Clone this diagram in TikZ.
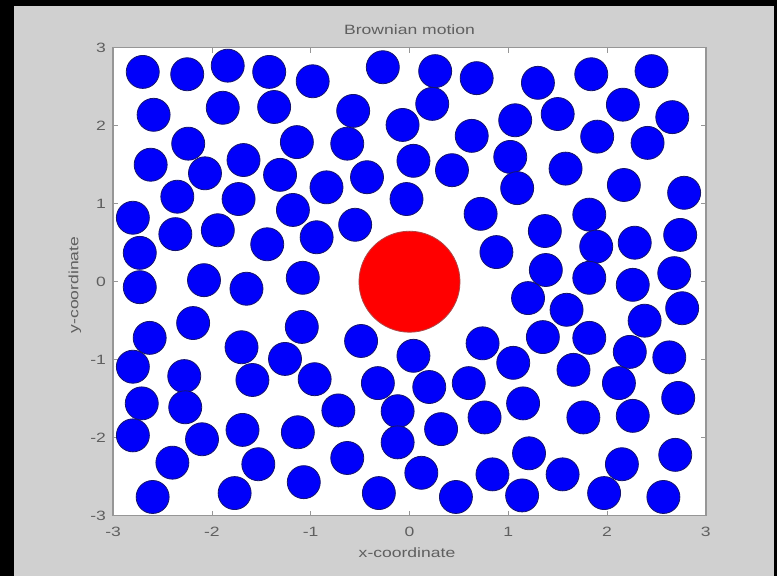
\documentclass[tikz,border=0pt]{standalone}
\usepackage{fontspec}
\setmainfont{Liberation Sans}
\usepackage{graphicx}
\usetikzlibrary{positioning}
\definecolor{figgray}{RGB}{208,208,208}
\definecolor{axgray}{RGB}{150,150,150}
\definecolor{labgray}{RGB}{95,95,95}
\definecolor{ballblue}{RGB}{0,0,250}
\definecolor{balledge}{RGB}{20,20,110}
\definecolor{bigred}{RGB}{255,0,0}
\definecolor{bigedge}{RGB}{175,70,70}
\newcommand{\widetext}[1]{\scalebox{1.3}[1]{#1}}

\begin{document}
\begin{tikzpicture}[x=98.8pt, y=78pt,
  lbl/.style={font=\fontsize{13.5}{14}\selectfont, text=labgray, inner sep=1pt},
  particle/.style={fill=ballblue, draw=balledge, line width=0.8pt},
  heavy/.style={fill=bigred, draw=bigedge, line width=0.8pt},
  tickmark/.style={axgray, line width=0.6pt}]
% figure window
\fill[black] (-4.145,-3.773) rectangle (3.720,3.612);
\fill[figgray] (-4.003,-3.773) rectangle (3.689,3.535);
% axes box and ticks
\fill[white] (-3,-3) rectangle (3,3);
\foreach \t [count=\i] in {-3,...,3} {
  \draw[tickmark] (\t,-3) -- ++(0,0.064) (\t,3) -- ++(0,-0.064);
  \draw[tickmark] (-3,\t) -- ++(0.05,0) (3,\t) -- ++(-0.05,0);
  \node[lbl, below=10pt] (xt\i) at (\t,-3) {\widetext{\t}};
  \node[lbl, left=6pt] (yt\i) at (-3,\t) {\widetext{\t}};
}
\draw[axgray, line width=1.5pt] (-3,-3) rectangle (3,3);
% small particles
\foreach \px/\py in {
  -2.70/2.69, -2.25/2.66, -1.84/2.77, -1.42/2.69, -0.98/2.57, -0.27/2.75,
  0.26/2.70, 0.68/2.61, 1.30/2.55, 1.84/2.66, 2.45/2.70,
  -2.59/2.14, -1.89/2.23, -1.37/2.24, -0.57/2.19, -0.07/2.01, 0.23/2.28,
  1.07/2.07, 1.50/2.15, 2.16/2.27, 2.66/2.11,
  -2.24/1.77, -1.14/1.79, -0.63/1.77, 0.63/1.87, 1.90/1.86, 2.41/1.78,
  -2.62/1.50, -1.68/1.56, 0.04/1.55, 1.02/1.60,
  -2.07/1.39, -1.31/1.37, -0.43/1.34, 0.43/1.43, 1.09/1.20, 1.58/1.45, 2.17/1.24,
  -2.35/1.09, -1.73/1.06, -0.84/1.21, -0.03/1.06, 2.78/1.14,
  -2.80/0.82, -1.18/0.92, -0.55/0.73, 0.72/0.87, 1.82/0.86,
  -2.37/0.61, -1.94/0.66, -1.44/0.48, -0.94/0.57, 1.37/0.65, 1.89/0.45,
  2.28/0.50, 2.74/0.60, -2.73/0.37, 0.88/0.38,
  -2.73/-0.07, -2.08/0.02, -1.65/-0.09, -1.08/0.05, 1.38/0.15, 1.82/0.05,
  2.26/-0.04, 2.68/0.11, 1.20/-0.21, 1.59/-0.36, 2.38/-0.50, 2.76/-0.34,
  -2.19/-0.53, -1.09/-0.58, -0.49/-0.76, -2.63/-0.72, -1.70/-0.84, -1.26/-0.99,
  -2.80/-1.09, -2.28/-1.21, -1.59/-1.26, -0.96/-1.25, -0.32/-1.30, 0.04/-0.95,
  0.20/-1.35, 0.74/-0.79, 1.35/-0.71, 1.82/-0.72, 1.05/-1.04, 1.66/-1.13,
  2.23/-0.90, 2.63/-0.97, 0.60/-1.30, 2.12/-1.30,
  -2.71/-1.56, -2.27/-1.61, -0.72/-1.65, -0.12/-1.66, 0.76/-1.74, 1.15/-1.56,
  1.76/-1.74, 2.26/-1.72, 2.72/-1.49,
  -2.80/-1.97, -2.10/-2.02, -1.69/-1.90, -1.13/-1.93, -0.12/-2.06, 0.32/-1.89,
  -2.40/-2.32, -1.53/-2.34, -0.63/-2.26, 0.12/-2.45, 0.84/-2.47, 1.21/-2.20,
  1.55/-2.47, 2.15/-2.34, 2.69/-2.22,
  -2.60/-2.76, -1.77/-2.71, -1.07/-2.57, -0.31/-2.71, 0.47/-2.76, 1.14/-2.74,
  1.97/-2.71, 2.57/-2.76}
  \draw[particle] (\px,\py) circle[radius=16.5pt];
% heavy particle
\draw[heavy] (0,0) circle[radius=50.5pt];
% labels
\node[lbl] (title) at (0,3.227) {\widetext{Brownian motion}};
\node[lbl] (xlab) at (-0.025,-3.478) {\widetext{x-coordinate}};
\node[lbl, rotate=90] (ylab) at (-3.386,-0.042) {\widetext{y-coordinate}};
\end{tikzpicture}
\end{document}
